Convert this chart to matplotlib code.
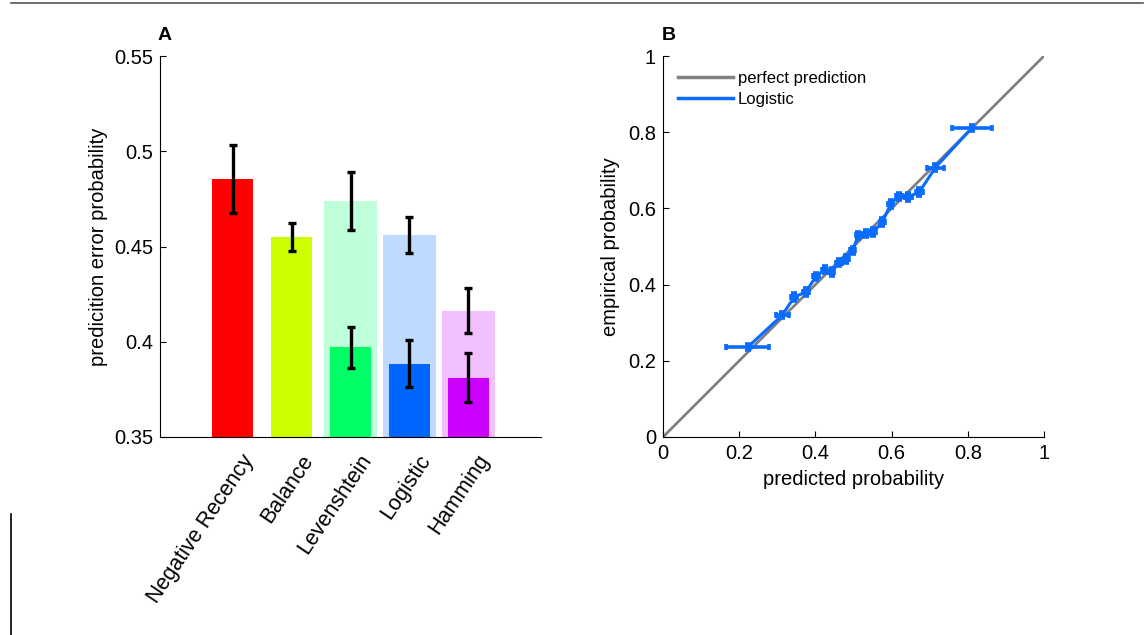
import matplotlib.pyplot as plt
from matplotlib.lines import Line2D
import matplotlib.transforms as mtransforms
import numpy as np

plt.rcParams['font.family'] = ['Liberation Sans', 'DejaVu Sans']

# panel A data
models = ['Negative Recency', 'Balance', 'Levenshtein', 'Logistic', 'Hamming']
colors = ['#ff0000', '#ccff00', '#00ff66', '#0066ff', '#cc00ff']
light_colors = [None, None, '#bfffd9', '#bfd9ff', '#f2bfff']
err_main = [0.4855, 0.4550, 0.3970, 0.3885, 0.3812]
err_main_sd = [0.018, 0.0072, 0.011, 0.0122, 0.0127]
err_light = [None, None, 0.4738, 0.4562, 0.4164]
err_light_sd = [None, None, 0.0151, 0.0094, 0.0116]

# panel B data
pred = [0.2225, 0.3124, 0.3447, 0.3752, 0.4014, 0.4241, 0.4424, 0.4616, 0.4808, 0.4974,
        0.5131, 0.5323, 0.5515, 0.5759, 0.5977, 0.6196, 0.6440, 0.6728, 0.7147, 0.8115]
emp = [0.236, 0.3193, 0.3675, 0.3806, 0.4217, 0.4392, 0.433, 0.4576, 0.468, 0.490,
       0.529, 0.5337, 0.538, 0.564, 0.612, 0.6317, 0.630, 0.643, 0.707, 0.812]
pred_sd = [0.056, 0.017, 0.008, 0.008, 0.007, 0.007, 0.007, 0.007, 0.007, 0.007,
           0.007, 0.007, 0.007, 0.007, 0.007, 0.008, 0.009, 0.010, 0.022, 0.053]
emp_sd = [0.008, 0.008, 0.01, 0.01, 0.01, 0.01, 0.01, 0.01, 0.01, 0.01,
          0.01, 0.01, 0.01, 0.01, 0.01, 0.01, 0.01, 0.01, 0.01, 0.008]

fig = plt.figure(figsize=(11.45, 6.35), dpi=100)

# stray page lines
fig.add_artist(Line2D([11 / 1145, 1143 / 1145], [1 - 2.5 / 635, 1 - 2.5 / 635],
                      color='#555555', lw=1.2, transform=fig.transFigure))
fig.add_artist(Line2D([11 / 1145, 11 / 1145], [0, 1 - 514 / 635],
                      color='black', lw=1.2, transform=fig.transFigure))

# ---- A ----
axA = fig.add_axes([160 / 1145, 1 - 437 / 635, 381 / 1145, 381 / 635])
x = np.arange(1, len(models) + 1)
for i in range(len(models)):
    if err_light[i] is not None:
        axA.bar(x[i], err_light[i] - 0.35, bottom=0.35, width=0.9, color=light_colors[i], zorder=1)
        axA.errorbar(x[i], err_light[i], yerr=err_light_sd[i], fmt='none', ecolor='black',
                     elinewidth=2.4, capsize=3, capthick=2.4, zorder=3)
    axA.bar(x[i], err_main[i] - 0.35, bottom=0.35, width=0.7, color=colors[i], zorder=2)
    axA.errorbar(x[i], err_main[i], yerr=err_main_sd[i], fmt='none', ecolor='black',
                 elinewidth=2.4, capsize=3, capthick=2.4, zorder=3)
axA.set_xlim(-0.24, 6.24)
axA.set_ylim(0.35, 0.55)
axA.set_yticks([0.35, 0.4, 0.45, 0.5, 0.55])
axA.set_yticklabels(['0.35', '0.4', '0.45', '0.5', '0.55'])
axA.set_xticks(x)
axA.set_xticklabels(models, rotation=56, ha='right', va='center', rotation_mode='anchor')
axA.tick_params(axis='x', length=0, pad=14, labelsize=15.5)
axA.tick_params(axis='y', direction='in', length=4, labelsize=14.5, pad=5)
offset = mtransforms.ScaledTranslation(17 / 100, 0, fig.dpi_scale_trans)
for lab in axA.get_xticklabels():
    lab.set_transform(lab.get_transform() + offset)
axA.spines['top'].set_visible(False)
axA.spines['right'].set_visible(False)
axA.set_ylabel('predicition error probability', fontsize=14.5, labelpad=4)
fig.text(158 / 1145, 1 - 36 / 635, 'A', fontsize=14, fontweight='bold', va='center')

# ---- B ----
axB = fig.add_axes([663 / 1145, 1 - 437 / 635, 381 / 1145, 381 / 635])
axB.plot([0, 1], [0, 1], color='#808080', lw=2, label='perfect prediction', zorder=1)
axB.errorbar(pred, emp, xerr=pred_sd, yerr=emp_sd, color='#0a6bff', lw=2.2,
             elinewidth=2.6, capsize=2, capthick=2.6, label='Logistic', zorder=2)
axB.set_xlim(0, 1)
axB.set_ylim(0, 1)
ticks = [0, 0.2, 0.4, 0.6, 0.8, 1]
tlabels = ['0', '0.2', '0.4', '0.6', '0.8', '1']
axB.set_xticks(ticks)
axB.set_xticklabels(tlabels)
axB.set_yticks(ticks)
axB.set_yticklabels(tlabels)
axB.tick_params(direction='in', length=4, labelsize=14.5, pad=5)
axB.spines['top'].set_visible(False)
axB.spines['right'].set_visible(False)
axB.set_xlabel('predicted probability', fontsize=14.5, labelpad=5)
axB.set_ylabel('empirical probability', fontsize=14.5, labelpad=6)
h = [Line2D([], [], color='#808080', lw=2.5), Line2D([], [], color='#0a6bff', lw=2.5)]
l = ['perfect prediction', 'Logistic']
axB.legend(h, l, loc='upper left', frameon=False, fontsize=12, handlelength=3.3,
           handletextpad=0.3, borderaxespad=0.5, labelspacing=0.35)
fig.text(662 / 1145, 1 - 36 / 635, 'B', fontsize=14, fontweight='bold', va='center')

fig.savefig('out.png', dpi=100)
